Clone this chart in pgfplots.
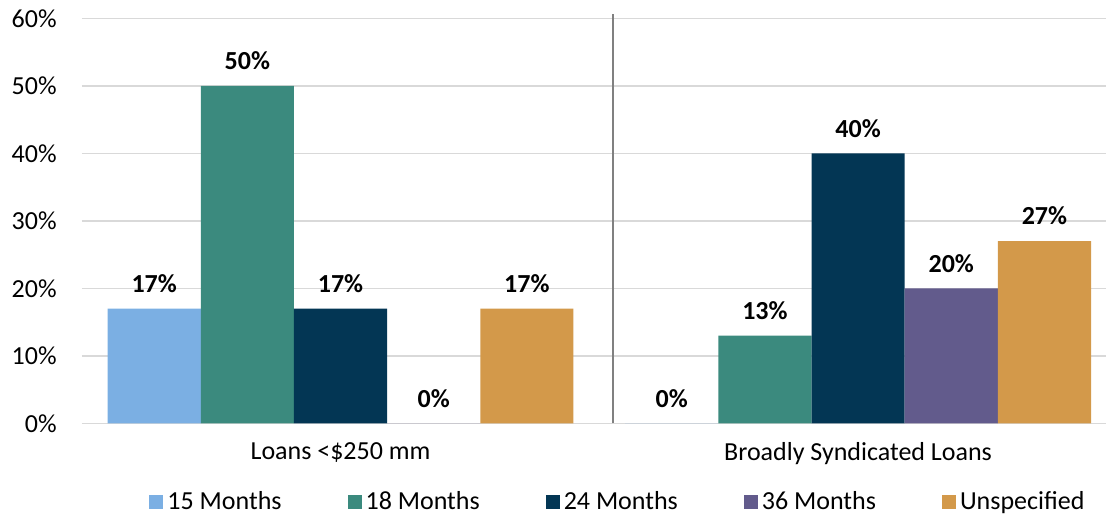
\documentclass[border=0pt]{standalone}
\usepackage{fontspec}
\setmainfont{Carlito}
\usepackage{pgfplots}
\pgfplotsset{compat=1.18}

\definecolor{c15}{HTML}{7BAFE3}
\definecolor{c18}{HTML}{3B8A7E}
\definecolor{c24}{HTML}{033654}
\definecolor{c36}{HTML}{625B8C}
\definecolor{cun}{HTML}{D3994A}
\definecolor{gridgray}{HTML}{D9D9D9}
\definecolor{sepgray}{HTML}{808080}

\newcommand{\chartfont}{\fontsize{13}{15}\selectfont}

\begin{document}
\begin{tikzpicture}[font=\chartfont]
\begin{axis}[
  at={(40.875pt,47.25pt)}, anchor=south west,
  scale only axis,
  width=512.125pt, height=202.5pt,
  xmin=-0.5, xmax=1.479,
  ymin=0, ymax=60,
  clip=false,
  axis line style={draw=none},
  major tick length=0pt,
  ytick={0,10,...,60},
  yticklabels={0\%,10\%,20\%,30\%,40\%,50\%,60\%},
  ymajorgrids,
  major grid style={draw=gridgray, line width=0.6pt},
  xtick={0,1},
  xticklabels={Loans <\$250 mm, Broadly Syndicated Loans},
  tick label style={font=\chartfont},
  yticklabel style={xshift=-9pt},
  xticklabel style={yshift=-6pt},
  ybar, bar shift=0pt,
  bar width=0.18,
  nodes near coords={\bfseries\pgfmathprintnumber[assume math mode=true]{\pgfplotspointmeta}\%},
  nodes near coords style={font=\chartfont, yshift=4.5pt},
  legend columns=5,
  legend style={draw=none, fill=none, font=\chartfont,
    at={(0.5245,-0.194)}, anchor=center,
    /tikz/every even column/.append style={column sep=31pt}},
  legend image code/.code={\fill[#1] (0pt,-3.5pt) rectangle (7pt,3.5pt);},
]
% each series sits at its own offset inside the two groups (x = 0 and x = 1)
\addplot[fill=c15, draw=none] coordinates {(-0.36,17) (0.64,0)};
\addlegendentry{15 Months}
\addplot[fill=c18, draw=none] coordinates {(-0.18,50) (0.82,13)};
\addlegendentry{18 Months}
\addplot[fill=c24, draw=none] coordinates {(0,17) (1,40)};
\addlegendentry{24 Months}
\addplot[fill=c36, draw=none] coordinates {(0.18,0) (1.18,20)};
\addlegendentry{36 Months}
\addplot[fill=cun, draw=none] coordinates {(0.36,17) (1.36,27)};
\addlegendentry{Unspecified}
% divider between the two loan groups
\draw[sepgray, line width=1pt] (axis cs:0.527,0) -- (axis cs:0.527,60.7);
\end{axis}
\pgfresetboundingbox
\path[use as bounding box] (0,0) rectangle (553pt,259pt);
\end{tikzpicture}
\end{document}
